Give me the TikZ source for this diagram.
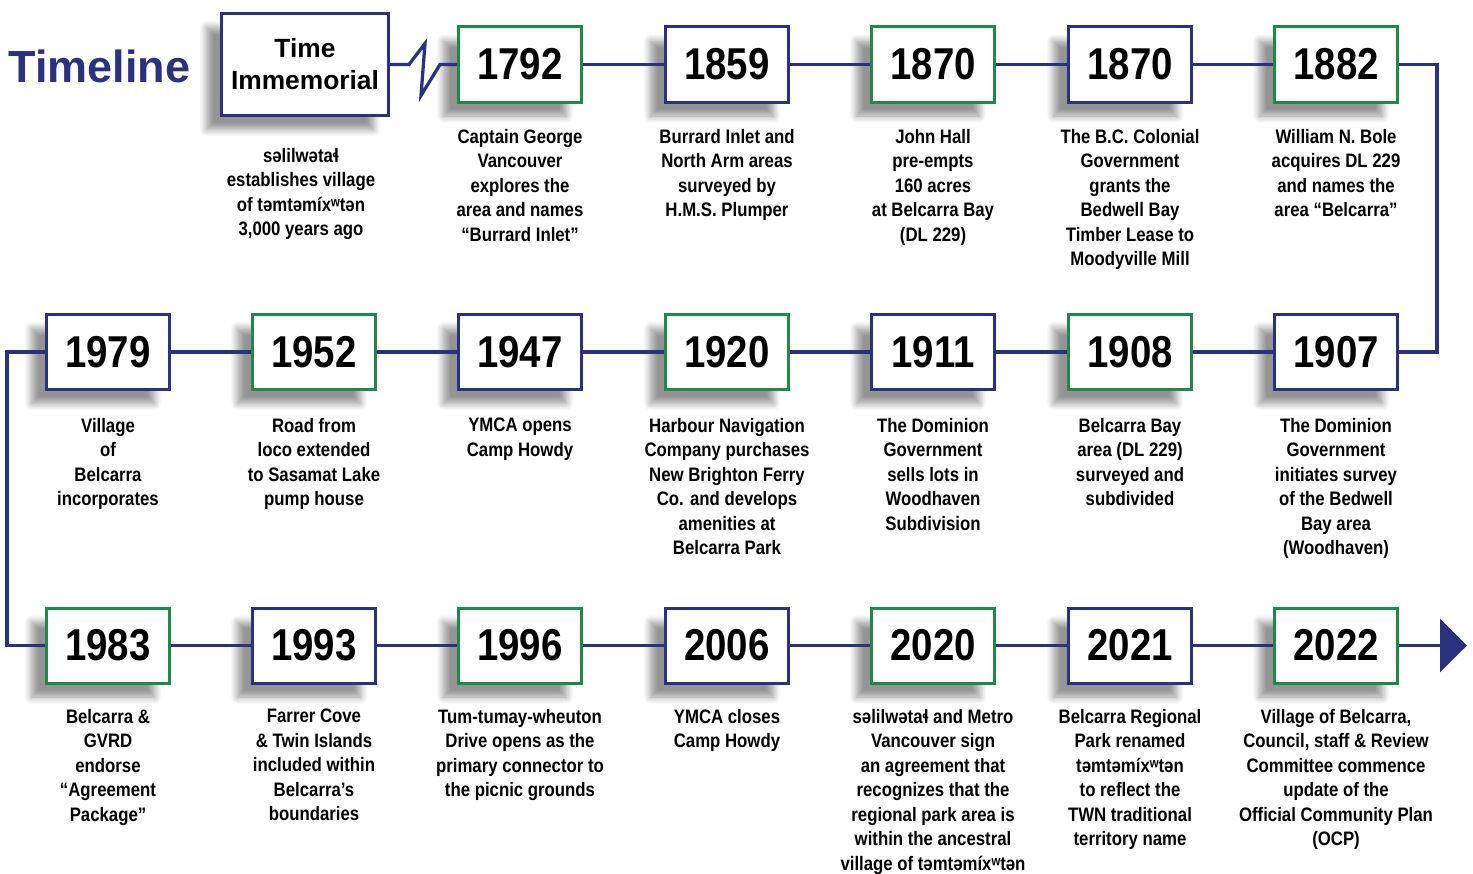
\documentclass[tikz,border=0pt]{standalone}
\usepackage{fontspec}
\setmainfont{Liberation Sans}
\newfontfamily\narrowfont{Liberation Sans}[FakeStretch=0.86]
\usetikzlibrary{arrows.meta,shadows.blur}
\definecolor{tlnavy}{RGB}{42,50,128}
\definecolor{tlgreen}{RGB}{31,137,76}
\tikzset{
  boxshadow/.style={blur shadow={shadow xshift=-3mm, shadow yshift=-2.8mm, shadow blur radius=1.4mm, shadow blur steps=8, shadow opacity=42}},
  yearbox/.style={draw=#1, line width=0.6mm, fill=white, boxshadow, minimum width=24.6mm, minimum height=15mm, inner sep=0pt, font=\narrowfont\bfseries\fontsize{25.4}{28}\selectfont},
  event/.style={anchor=north, align=center, inner sep=0pt, font=\narrowfont\bfseries\fontsize{11.1}{13.94}\selectfont},
  conn/.style={draw=tlnavy, line width=0.65mm},
}
\begin{document}
\begin{tikzpicture}[x=0.2mm, y=-0.2mm]
    \useasboundingbox (0,0) rectangle (1473,873);

    % title and first box
    \node[anchor=base west, inner sep=0pt, text=tlnavy, font=\bfseries\fontsize{25.6}{30}\selectfont] (title) at (8,83) {Timeline};
    \node[draw=tlnavy, line width=0.6mm, fill=white, boxshadow, minimum width=33.4mm, minimum height=20.4mm, align=center, font=\bfseries\fontsize{15}{18.2}\selectfont] (ti) at (305,64.5) {Time\\Immemorial};
    \node[event] (tidesc) at (301,148) {səlilwətaɬ\\establishes village\\of təmtəmíxʷtən\\3,000 years ago};

    % row 1
    \foreach \x/\yr/\col/\txt [count=\i] in {
        520/1792/tlgreen/{Captain George\\Vancouver\\explores the\\area and names\\“Burrard Inlet”},
        727/1859/tlnavy/{Burrard Inlet and\\North Arm areas\\surveyed by\\H.M.S. Plumper},
        933/1870/tlgreen/{John Hall\\pre-empts\\160 acres\\at Belcarra Bay\\(DL 229)},
        1130/1870/tlnavy/{The B.C. Colonial\\Government\\grants the\\Bedwell Bay\\Timber Lease to\\Moodyville Mill},
        1336/1882/tlgreen/{William N. Bole\\acquires DL 229\\and names the\\area “Belcarra”}} {
        \node[yearbox=\col] (a\i) at (\x,64.5) {\yr};
        \node[event] (adesc\i) at (\x,129) {\txt};};

    % row 2
    \foreach \x/\yr/\col/\txt [count=\i] in {
        108/1979/tlnavy/{Village\\of\\Belcarra\\incorporates},
        314/1952/tlgreen/{Road from\\loco extended\\to Sasamat Lake\\pump house},
        520/1947/tlnavy/{YMCA opens\\Camp Howdy},
        727/1920/tlgreen/{Harbour Navigation\\Company purchases\\New Brighton Ferry\\Co. and develops\\amenities at\\Belcarra Park},
        933/1911/tlnavy/{The Dominion\\Government\\sells lots in\\Woodhaven\\Subdivision},
        1130/1908/tlgreen/{Belcarra Bay\\area (DL 229)\\surveyed and\\subdivided},
        1336/1907/tlnavy/{The Dominion\\Government\\initiates survey\\of the Bedwell\\Bay area\\(Woodhaven)}} {
        \node[yearbox=\col] (b\i) at (\x,352) {\yr};
        \node[event] (bdesc\i) at (\x,418) {\txt};};

    % row 3
    \foreach \x/\yr/\col/\txt [count=\i] in {
        108/1983/tlgreen/{Belcarra \&\\GVRD\\endorse\\“Agreement\\Package”},
        314/1993/tlnavy/{Farrer Cove\\\& Twin Islands\\included within\\Belcarra’s\\boundaries},
        520/1996/tlgreen/{Tum-tumay-wheuton\\Drive opens as the\\primary connector to\\the picnic grounds},
        727/2006/tlnavy/{YMCA closes\\Camp Howdy},
        933/2020/tlgreen/{səlilwətaɬ and Metro\\Vancouver sign\\an agreement that\\recognizes that the\\regional park area is\\within the ancestral\\village of təmtəmíxʷtən},
        1130/2021/tlnavy/{Belcarra Regional\\Park renamed\\təmtəmíxʷtən\\to reflect the\\TWN traditional\\territory name},
        1336/2022/tlgreen/{Village of Belcarra,\\Council, staff \& Review\\Committee commence\\update of the\\Official Community Plan\\(OCP)}} {
        \node[yearbox=\col] (c\i) at (\x,645.5) {\yr};
        \node[event] (cdesc\i) at (\x,709) {\txt};};

    % connectors
    \draw[conn] (ti.east) -- ++(19,0) -- ++(16,-21) -- ++(-4,52) -- ++(19,-31) -- (a1.west);
    \foreach \i/\j in {1/2,2/3,3/4,4/5}
        \draw[conn] (a\i.east) -- (a\j.west);
    \foreach \i/\j in {1/2,2/3,3/4,4/5,5/6,6/7} {
        \draw[conn] (b\i.east) -- (b\j.west);
        \draw[conn] (c\i.east) -- (c\j.west);};
    \coordinate (rturn) at (1437,64.5);
    \coordinate (lturn) at (7,352);
    \coordinate (tip) at (1467,645.5);
    \draw[conn] (a5.east) -- (rturn) |- (b7.east);
    \draw[conn] (b1.west) -- (lturn) |- (c1.west);
    \draw[conn, -{Triangle[length=5.4mm, width=10.6mm]}] (c7.east) -- (tip);
\end{tikzpicture}
\end{document}
